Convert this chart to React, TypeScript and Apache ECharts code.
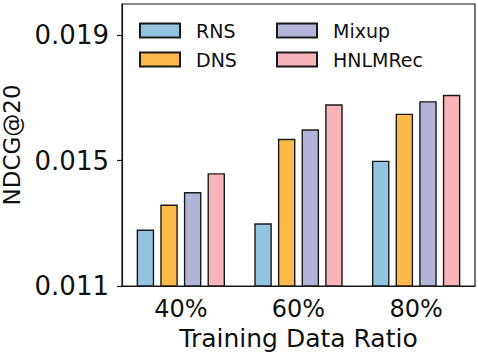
import React, { useEffect, useRef } from "react";
import * as echarts from "echarts";

const categories = ["40%", "60%", "80%"];
const seriesNames = ["RNS", "DNS", "Mixup", "HNLMRec"];
const rnsValues = [0.0128, 0.0130, 0.0150];
const dnsValues = [0.0136, 0.0157, 0.0165];
const mixupValues = [0.0140, 0.0160, 0.0169];
const hnlmrecValues = [0.0146, 0.0168, 0.0171];
const yTickValues = [0.011, 0.015, 0.019];
const colors = ["#93c4e0", "#fdb94a", "#b4b4d8", "#f9b4bb"];

const FONT = "DejaVu Sans";

export default function App() {
  const ref = useRef<HTMLDivElement>(null);
  useEffect(() => {
    if (!ref.current) return;
    const chart = echarts.init(ref.current, null, { renderer: "svg" });
    const allValues = [rnsValues, dnsValues, mixupValues, hnlmrecValues];
    const series = seriesNames.map((name, i) => ({
      name,
      type: "bar",
      data: allValues[i],
      barWidth: 17.5,
      barGap: "35%",
      itemStyle: { color: colors[i], borderColor: "#1a1a1a", borderWidth: 1.4 },
    }));
    const legendCommon = {
      orient: "vertical",
      padding: 0,
      itemWidth: 40,
      itemHeight: 14,
      itemGap: 10,
      icon: "rect",
      textStyle: {
        fontFamily: FONT,
        fontSize: 19,
        color: "#111",
        lineHeight: 14,
        padding: [0, 0, 0, 11],
      },
    };
    chart.setOption({
      animation: false,
      backgroundColor: "#fff",
      legend: [
        { ...legendCommon, data: ["RNS", "DNS"], left: 139, top: 21 },
        { ...legendCommon, data: ["Mixup", "HNLMRec"], left: 276, top: 21 },
      ],
      grid: {
        left: 122,
        right: 3,
        top: 4,
        bottom: 70,
        outerBoundsMode: "none",
        containLabel: false,
        show: true,
        borderColor: "#1a1a1a",
        borderWidth: 1.2,
        backgroundColor: "transparent",
      },
      xAxis: {
        type: "category",
        data: categories,
        name: "Training Data Ratio",
        nameLocation: "middle",
        nameGap: 39,
        nameTextStyle: { fontFamily: FONT, fontSize: 25, color: "#111" },
        axisLine: { lineStyle: { color: "#1a1a1a", width: 1.2 } },
        axisTick: { alignWithLabel: true, length: 5, lineStyle: { color: "#1a1a1a", width: 1.2 } },
        axisLabel: { fontFamily: FONT, fontSize: 24, color: "#111", margin: 11 },
      },
      yAxis: {
        type: "value",
        min: 0.011,
        max: 0.020,
        name: "NDCG@20",
        nameLocation: "middle",
        nameGap: 92,
        nameTextStyle: { fontFamily: FONT, fontSize: 23, color: "#111" },
        splitLine: { show: false },
        axisLine: { show: true, lineStyle: { color: "#1a1a1a", width: 1.2 } },
        axisTick: {
          show: true,
          length: 5,
          customValues: yTickValues,
          lineStyle: { color: "#1a1a1a", width: 1.2 },
        },
        axisLabel: {
          fontFamily: FONT,
          fontSize: 26,
          color: "#111",
          margin: 13,
          customValues: yTickValues,
          formatter: (v: number) => v.toFixed(3),
        },
      },
      series,
    });
    return () => chart.dispose();
  }, []);
  return (
    <div
      ref={ref}
      style={{ position: "fixed", left: 0, top: 0, width: 478, height: 356 }}
    />
  );
}
